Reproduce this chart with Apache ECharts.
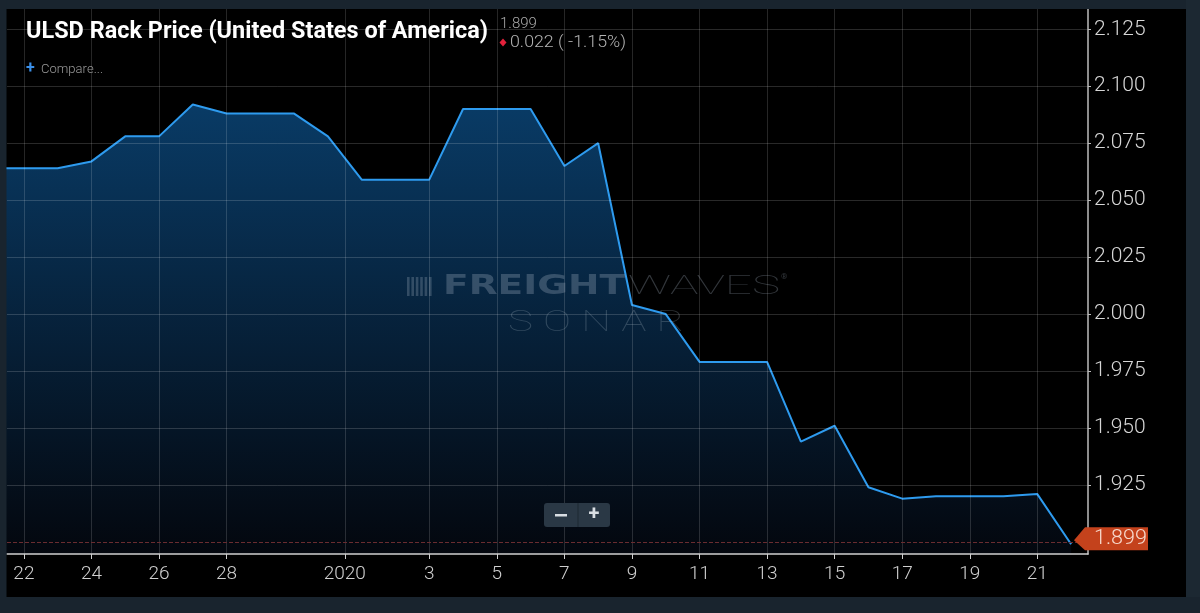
<!DOCTYPE html>
<html>
<head>
<meta charset="utf-8">
<script src="https://cdn.jsdelivr.net/npm/echarts@6/dist/echarts.min.js"></script>
<style>
html,body{margin:0;padding:0;background:#19242e;}
#c{width:1200px;height:613px;}
</style>
</head>
<body>
<div id="c"></div>
<script>
// ---- data ----
const dates = ['2019-12-21','2019-12-22','2019-12-23','2019-12-24','2019-12-25','2019-12-26','2019-12-27','2019-12-28','2019-12-29','2019-12-30','2019-12-31',
  '2020-01-01','2020-01-02','2020-01-03','2020-01-04','2020-01-05','2020-01-06','2020-01-07','2020-01-08','2020-01-09','2020-01-10','2020-01-11',
  '2020-01-12','2020-01-13','2020-01-14','2020-01-15','2020-01-16','2020-01-17','2020-01-18','2020-01-19','2020-01-20','2020-01-21','2020-01-22'];
// day offset from 2019-12-22
const dayOffsets = [-1,0,1,2,3,4,5,6,7,8,9,10,11,12,13,14,15,16,17,18,19,20,21,22,23,24,25,26,27,28,29,30,31];
const prices = [2.064,2.064,2.064,2.067,2.078,2.078,2.092,2.088,2.088,2.088,2.078,
  2.059,2.059,2.059,2.090,2.090,2.090,2.065,2.075,2.004,2.000,1.979,
  1.979,1.979,1.944,1.951,1.924,1.919,1.920,1.920,1.920,1.921,1.899];
const xTickValues = [0,2,4,6,9.5,12,14,16,18,20,22,24,26,28,30];
const xTickLabels = ['22','24','26','28','2020','3','5','7','9','11','13','15','17','19','21'];
const yTickValues = [1.925,1.950,1.975,2.000,2.025,2.050,2.075,2.100,2.125];
const titleText = 'ULSD Rack Price (United States of America)';
const lastPriceText = '1.899';
const changeText = '0.022 ( -1.15%)';
const lastPrice = prices[prices.length - 1];

// ---- helpers ----
const mctx = document.createElement('canvas').getContext('2d');
function fit(text, font, w) { mctx.font = font; return w / mctx.measureText(text).width; }
function xLabel(v) {
  for (let i = 0; i < xTickValues.length; i++) if (Math.abs(xTickValues[i] - v) < 1e-6) return xTickLabels[i];
  return '';
}

const chart = echarts.init(document.getElementById('c'), null, {renderer: 'canvas', width: 1200, height: 613});

const FR = '#19242e';
const titleFont = 'bold 24px Roboto';
const wmBold = '900 26px "DejaVu Sans"';
const wmThin = '100 26px Roboto';
const sonarFont = '100 30px Roboto';

const graphics = [
  // outer frame
  {type: 'rect', shape: {x: 0, y: 0, width: 1200, height: 9}, style: {fill: FR}, z: 200, silent: true},
  {type: 'rect', shape: {x: 0, y: 0, width: 6.5, height: 613}, style: {fill: FR}, z: 200, silent: true},
  {type: 'rect', shape: {x: 1186, y: 0, width: 14, height: 613}, style: {fill: '#1c2832'}, z: 200, silent: true},
  {type: 'rect', shape: {x: 0, y: 597, width: 1200, height: 16}, style: {fill: FR}, z: 200, silent: true},
  // title
  {type: 'text', x: 26, y: 32, scaleX: fit(titleText, titleFont, 462), z: 120,
    style: {text: titleText, font: titleFont, fill: '#ffffff', verticalAlign: 'middle', align: 'left'}},
  {type: 'text', x: 500, y: 24, scaleX: 1, z: 120,
    style: {text: lastPriceText, font: '300 15px Roboto', fill: '#a9a9a9', verticalAlign: 'middle'}},
  {type: 'polygon', shape: {points: [[503, 38.5], [506.5, 42.5], [503, 46.5], [499.5, 42.5]]}, style: {fill: '#e4213b'}, z: 120},
  {type: 'text', x: 510, y: 42.5, scaleX: fit(changeText, '300 16px Roboto', 116), z: 120,
    style: {text: changeText, font: '300 16px Roboto', fill: '#b3b3b3', verticalAlign: 'middle'}},
  {type: 'text', x: 26, y: 69, z: 120, style: {text: '+', font: 'bold 16px Roboto', fill: '#3b8fe8', verticalAlign: 'middle'}},
  {type: 'text', x: 41, y: 70, scaleX: fit('Compare...', '300 13px Roboto', 62), z: 120,
    style: {text: 'Compare...', font: '300 13px Roboto', fill: '#9a9a9a', verticalAlign: 'middle'}},
  // watermark
  {type: 'text', x: 443, y: 287, scaleX: fit('FREIGHT', wmBold, 182), z: 60, silent: true,
    style: {text: 'FREIGHT', font: wmBold, fill: 'rgba(165,180,195,0.30)', verticalAlign: 'middle'}},
  {type: 'text', x: 628, y: 287, scaleX: fit('WAVES', wmThin, 152), z: 60, silent: true,
    style: {text: 'WAVES', font: wmThin, fill: 'rgba(165,180,195,0.30)', verticalAlign: 'middle'}},
  {type: 'text', x: 781, y: 277, z: 60, silent: true,
    style: {text: '®', font: '8px Roboto', fill: 'rgba(165,180,195,0.3)', verticalAlign: 'middle'}},
  {type: 'text', x: 508, y: 323, scaleX: fit('S O N A R', sonarFont, 176), z: 60, silent: true,
    style: {text: 'S O N A R', font: sonarFont, fill: 'rgba(165,180,195,0.26)', verticalAlign: 'middle'}},
  // zoom buttons
  {type: 'rect', shape: {x: 544, y: 503, width: 66, height: 24, r: 3}, style: {fill: '#2a3845'}, z: 110},
  {type: 'rect', shape: {x: 577.5, y: 503, width: 1, height: 24}, style: {fill: '#1d2833'}, z: 111},
  {type: 'rect', shape: {x: 555, y: 514, width: 12, height: 2.5}, style: {fill: '#d9dee3'}, z: 112},
  {type: 'text', x: 594, y: 515, z: 112, style: {text: '+', font: 'bold 20px Roboto', fill: '#d9dee3', align: 'center', verticalAlign: 'middle'}}
];
// logo bars
for (let i = 0; i < 6; i++) {
  graphics.push({type: 'rect', shape: {x: 407 + i * 4.4, y: 277, width: 2.6, height: 19}, style: {fill: 'rgba(165,180,195,0.28)'}, z: 60, silent: true});
}

const option = {
  backgroundColor: '#000000',
  animation: false,
  grid: {left: 7, right: 112, top: 9, bottom: 59},
  xAxis: {
    type: 'value', min: -0.5, max: 31.5, z: 5,
    axisLine: {show: true, onZero: false, lineStyle: {color: '#cfcfcf', width: 1.5}},
    axisTick: {show: true, customValues: xTickValues, length: 5, lineStyle: {color: '#cfcfcf'}},
    axisLabel: {customValues: xTickValues, formatter: xLabel, color: '#cfcfcf', fontSize: 19, fontFamily: 'Roboto', fontWeight: 300, margin: 11},
    splitLine: {show: true, lineStyle: {color: 'rgba(255,255,255,0.15)', width: 1}}
  },
  yAxis: {
    type: 'value', position: 'right', min: 1.8947, max: 2.1339, z: 5,
    axisLine: {show: true, onZero: false, lineStyle: {color: '#bdbdbd', width: 1.5}},
    axisTick: {show: true, customValues: yTickValues, length: 3, lineStyle: {color: '#bdbdbd'}},
    axisLabel: {customValues: yTickValues, formatter: v => v.toFixed(3), color: '#d6d6d6', fontSize: 21, fontFamily: 'Roboto', fontWeight: 300, margin: 6},
    splitLine: {show: true, lineStyle: {color: 'rgba(255,255,255,0.16)', width: 1}}
  },
  series: [{
    type: 'line', name: 'ULSD', data: dayOffsets.map((d, i) => [d, prices[i]]),
    symbol: 'none', clip: true, z: 2,
    lineStyle: {color: '#2e9bef', width: 2},
    areaStyle: {color: new echarts.graphic.LinearGradient(0, 0, 0, 1, [
      {offset: 0, color: 'rgba(13,84,145,1)'},
      {offset: 1, color: 'rgba(5,10,20,1)'}
    ])},
    markLine: {silent: true, symbol: 'none', label: {show: false},
      lineStyle: {color: '#6a2c30', type: 'dashed', width: 1}, data: [{yAxis: lastPrice}]}
  }],
  graphic: graphics
};
chart.setOption(option);

// last-price marker on the right axis
const p = chart.convertToPixel({gridIndex: 0}, [31.5, lastPrice]);
const mx = p[0], my = p[1];
graphics.push(
  {type: 'polygon', z: 130, shape: {points: [[mx - 14, my - 4], [mx - 3, my - 17], [mx + 60, my - 17], [mx + 60, my + 6], [mx - 3, my + 6]]}, style: {fill: '#c4421c'}},
  {type: 'text', z: 131, x: mx + 6, y: my - 5.5, scaleX: fit(lastPriceText, '300 21px Roboto', 53),
    style: {text: lastPriceText, font: '300 21px Roboto', fill: '#f7d9cc', verticalAlign: 'middle'}}
);
chart.setOption({graphic: graphics});
</script>
</body>
</html>
